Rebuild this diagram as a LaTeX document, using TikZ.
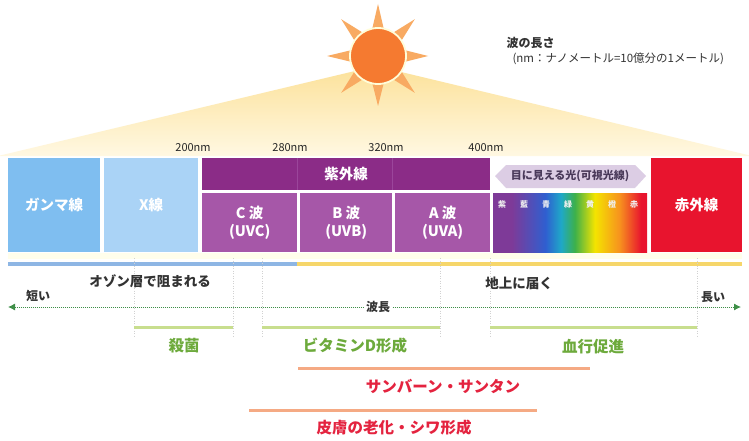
\documentclass[tikz,border=0pt]{standalone}
\usepackage{fontspec}
\newfontfamily\jp{Noto Sans CJK JP}
\usetikzlibrary{arrows.meta}

\definecolor{gammablue}{HTML}{7FBEF0}
\definecolor{xblue}{HTML}{AAD3F6}
\definecolor{uvdark}{HTML}{8B2C87}
\definecolor{uvlight}{HTML}{A657A8}
\definecolor{irred}{HTML}{E8142E}
\definecolor{fantop}{HTML}{FCE199}
\definecolor{fanbot}{HTML}{FFF8E2}
\definecolor{sunbody}{HTML}{F57A30}
\definecolor{sunray}{HTML}{F8AA62}
\definecolor{barblue}{HTML}{8EB6E4}
\definecolor{baryellow}{HTML}{F6D66A}
\definecolor{arrowgreen}{HTML}{3F8F48}
\definecolor{rangegreen}{HTML}{C8DE8E}
\definecolor{textgreen}{HTML}{6DAA3C}
\definecolor{rangeorange}{HTML}{F5AA84}
\definecolor{textred}{HTML}{E4233F}
\definecolor{visfill}{HTML}{DCCDE4}
\definecolor{vistext}{HTML}{4A3A5A}
\definecolor{spviolet}{HTML}{7E3A98}
\definecolor{spblue}{HTML}{2F5FD0}
\definecolor{spcyan}{HTML}{1FA8C8}
\definecolor{spgreen}{HTML}{3DB04A}
\definecolor{spyellow}{HTML}{F4E400}
\definecolor{sporange}{HTML}{F7921E}
\definecolor{spred}{HTML}{E8142E}

% visible spectrum, fitted between 25bp and 75bp
\pgfdeclarehorizontalshading{spectrum}{100bp}{%
  color(0bp)=(spviolet);
  color(25bp)=(spviolet);
  color(31bp)=(spviolet);
  color(42bp)=(spblue);
  color(47bp)=(spcyan);
  color(51.5bp)=(spgreen);
  color(58bp)=(spyellow);
  color(66bp)=(sporange);
  color(73bp)=(spred);
  color(100bp)=(spred)}

\tikzset{
  band/.style={draw=none, text=white, align=center, inner sep=0pt,
    anchor=north west, font=\jp\bfseries\fontsize{14.5}{18}\selectfont},
  nmlabel/.style={font=\jp\fontsize{11}{13}\selectfont, text=black!85},
  guide/.style={draw=black!18, line width=0.6pt, dash pattern=on 1pt off 1.5pt},
  rangeline/.style={line width=3pt, line cap=butt},
  effect/.style={font=\jp\bfseries\fontsize{15.5}{18}\selectfont},
  blackhead/.style={font=\jp\bfseries\fontsize{13.5}{16}\selectfont, text=black!80},
  smallhead/.style={font=\jp\bfseries\fontsize{12}{14}\selectfont, text=black!80},
  spec/.style={font=\jp\bfseries\fontsize{8}{9}\selectfont, text=white!94!black, inner sep=0pt},
}

\begin{document}
\begin{tikzpicture}[x=1pt, y=-1pt]
\useasboundingbox (0,0) rectangle (749,441);
\fill[white] (0,0) rectangle (749,441);

% light fan below the sun
\shade[top color=fantop, bottom color=fanbot] (376,66) -- (752,156) -- (-2,156) -- cycle;

% sun
\coordinate (sun) at (378,56);
\foreach \a/\r in {90/50, 45/52, 0/50, -45/52, -90/52, -135/52, 180/51, 135/52}
  \fill[sunray, shift={(sun)}] (\a-15:25) -- (\a:\r) -- (\a+15:25) -- cycle;
\fill[sunbody, draw=yellow!15, line width=1.8pt] (sun) circle [radius=28];

% heading
\node[anchor=west, font=\jp\bfseries\fontsize{12}{14}\selectfont, text=black!80] (head) at (503,43) {波の長さ};
\node[anchor=west, font=\jp\fontsize{11.5}{13}\selectfont, text=black!80] (headsub) at (509,59) {(nm：ナノメートル=10億分の1メートル)};

% wavelength marks
\node[nmlabel] (nm200) at (193,148) {200nm};
\node[nmlabel] (nm280) at (290,148) {280nm};
\node[nmlabel] (nm320) at (386,148) {320nm};
\node[nmlabel] (nm400) at (486,148) {400nm};

% bands
\node[band, fill=gammablue, minimum width=92pt, minimum height=94pt] (gamma) at (8,158) {ガンマ線};
\node[band, fill=xblue, minimum width=94pt, minimum height=94pt] (xray) at (104,158) {X線};
\node[band, fill=uvdark, minimum width=288pt, minimum height=32pt] (uv) at (202,158) {紫外線};
\draw[uvlight!60!uvdark, line width=0.8pt] (297,158) -- (297,190) (392,158) -- (392,190);
\node[band, fill=uvlight, minimum width=95pt, minimum height=59pt] (uvc) at (202,193) {C 波\\(UVC)};
\node[band, fill=uvlight, minimum width=92pt, minimum height=59pt] (uvb) at (300,193) {B 波\\(UVB)};
\node[band, fill=uvlight, minimum width=95pt, minimum height=59pt] (uva) at (395,193) {A 波\\(UVA)};
\node[band, shading=spectrum, minimum width=154pt, minimum height=59pt] (vis) at (493,193) {};
\node[band, fill=irred, minimum width=91pt, minimum height=94pt] (ir) at (651,158) {赤外線};

% visible light tag
\fill[visfill] (495,176) -- (506,165) -- (635,165) -- (646,176) -- (635,188) -- (506,188) -- cycle;
\node[font=\jp\bfseries\fontsize{11}{13}\selectfont, text=vistext] (vistag) at (570,176) {目に見える光(可視光線)};

% colour names on the spectrum
\foreach \t [count=\i] in {紫,藍,青,緑,黄,橙,赤}
  \node[spec] (c\i) at (502+22*\i-22,204) {\t};

% ozone bar
\fill[white!92!yellow] (8,253) rectangle (742,259);
\coordinate (bl) at (8,264);
\coordinate (bm) at (297,264);
\coordinate (br) at (742,264);
\draw[barblue, line width=3.5pt] (bl) -- (bm);
\draw[baryellow, line width=3.5pt] (bm) -- (br);

% guide lines
\foreach \x in {134,233,262,440,490,697}
  \draw[guide] (\x,258) -- (\x,338);

\node[blackhead] (ozone) at (150,281) {オゾン層で阻まれる};
\node[blackhead] (ground) at (519,283) {地上に届く};

% wavelength axis
\coordinate (axl) at (8,307);
\coordinate (axr) at (741,307);
\draw[arrowgreen, line width=0.9pt, dash pattern=on 1.2pt off 0.8pt, {Latex[length=7pt,width=7pt]}-{Latex[length=7pt,width=7pt]}] (axl) -- (axr);
\node[fill=white, smallhead, inner sep=2pt] (wl) at (378,307) {波長};
\node[smallhead] (short) at (38,296) {短い};
\node[smallhead] (long) at (713,297) {長い};

% effect ranges
\coordinate (s1) at (134,327); \coordinate (s2) at (233,327);
\coordinate (d1) at (262,327); \coordinate (d2) at (440,327);
\coordinate (b1) at (490,327); \coordinate (b2) at (697,327);
\draw[rangegreen, rangeline] (s1) -- (s2);
\draw[rangegreen, rangeline] (d1) -- (d2);
\draw[rangegreen, rangeline] (b1) -- (b2);
\node[effect, text=textgreen] (steril) at (184,346) {殺菌};
\node[effect, text=textgreen] (vitd) at (355,346) {ビタミンD形成};
\node[effect, text=textgreen] (blood) at (593,347) {血行促進};

\coordinate (t1) at (298,368); \coordinate (t2) at (590,368);
\draw[rangeorange, rangeline] (t1) -- (t2);
\node[effect, text=textred] (tan) at (443,386) {サンバーン・サンタン};

\coordinate (a1) at (249,410); \coordinate (a2) at (537,410);
\draw[rangeorange, rangeline] (a1) -- (a2);
\node[effect, text=textred] (aging) at (394,428) {皮膚の老化・シワ形成};
\end{tikzpicture}
\end{document}
